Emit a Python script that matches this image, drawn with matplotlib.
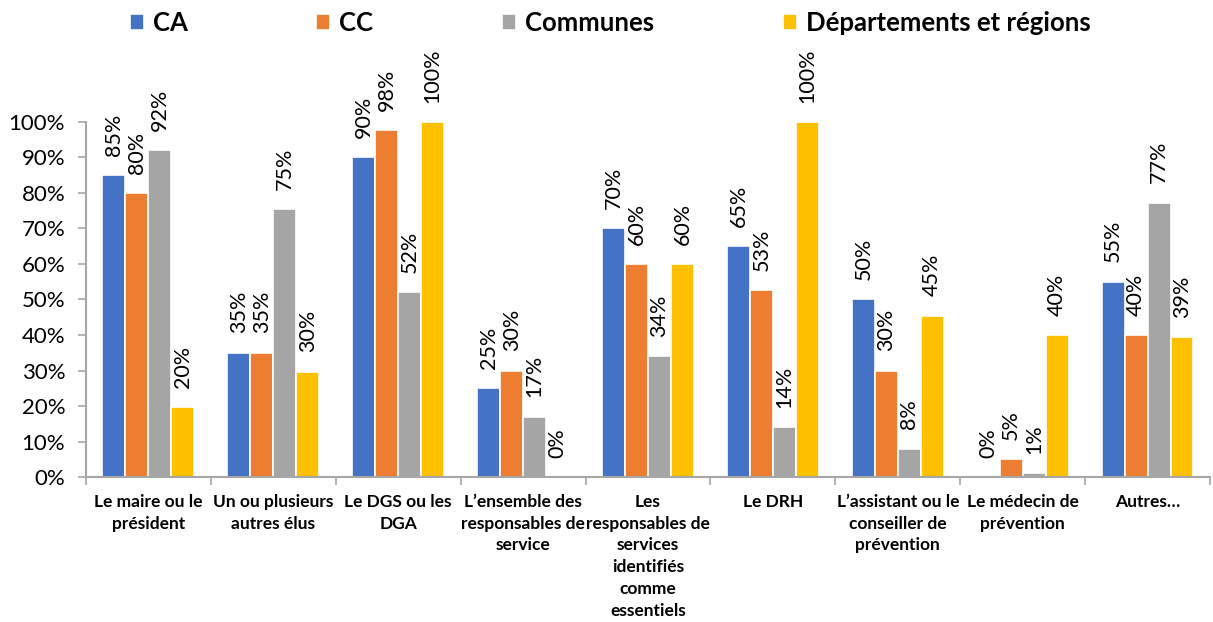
import numpy as np
import matplotlib
matplotlib.use("Agg")
import matplotlib.pyplot as plt
from matplotlib.ticker import FuncFormatter, FixedLocator

plt.rcParams['font.family'] = ['Lato', 'DejaVu Sans']

categories = [
    "Le maire ou le\nprésident",
    "Un ou plusieurs\nautres élus",
    "Le DGS ou les\nDGA",
    "L’ensemble des\nresponsables de\nservice",
    "Les\nresponsables de\nservices\nidentifiés\ncomme\nessentiels",
    "Le DRH",
    "L’assistant ou le\nconseiller de\nprévention",
    "Le médecin de\nprévention",
    "Autres…",
]

series = ["CA", "CC", "Communes", "Départements et régions"]
ca = [85, 35, 90, 25, 70, 65, 50, 0, 55]
cc = [80, 35, 97.6, 30, 60, 52.6, 30, 5, 40]
communes = [92, 75.4, 52, 17, 34, 14, 8, 1, 77.2]
departements = [19.6, 29.6, 100, 0, 60, 100, 45.4, 40, 39.4]

colors = ["#4472C4", "#ED7D31", "#A5A5A5", "#FFC000"]
values = [ca, cc, communes, departements]

fig = plt.figure(figsize=(12.13, 6.22), dpi=100)
ax = fig.add_axes([0.0709, 0.2331, 0.9266, 0.5708])

x = np.arange(len(categories))
step = 0.184
for i, (name, vals, col) in enumerate(zip(series, values, colors)):
    pos = x + (i - 1.5) * step
    bars = ax.bar(pos, vals, width=step, color=col, edgecolor="white",
                  linewidth=1.2, label=name)
    # étiquettes verticales au-dessus des barres
    for b, v in zip(bars, vals):
        ax.annotate(f"{v:.0f}%", (b.get_x() + b.get_width() / 2, v),
                    xytext=(0, 14), textcoords="offset points",
                    rotation=90, ha="center", va="bottom",
                    fontsize=15.5, color="#000000", annotation_clip=False)

ax.set_xlim(-0.5, len(categories) - 0.5)
ax.set_ylim(0, 100)
ax.yaxis.set_major_locator(FixedLocator(np.arange(0, 101, 10)))
ax.yaxis.set_major_formatter(FuncFormatter(lambda v, p: f"{v:.0f}%"))
ax.tick_params(axis="y", labelsize=16, length=6, color="#A6A6A6", width=1.2, pad=9)

ax.set_xticks(x)
ax.set_xticklabels(categories, fontsize=12.5, fontweight="bold", linespacing=1.45)
ax.tick_params(axis="x", length=0, pad=12)
ax.set_xticks(np.arange(-0.5, len(categories) + 0.5, 1), minor=True)
ax.tick_params(axis="x", which="minor", length=6, color="#A6A6A6", width=1.2)

for s in ["top", "right"]:
    ax.spines[s].set_visible(False)
for s in ["left", "bottom"]:
    ax.spines[s].set_color("#A6A6A6")
    ax.spines[s].set_linewidth(1.5)

fig.legend(loc="center", bbox_to_anchor=(0.503, 0.963), ncol=4, frameon=False,
           prop={"weight": "bold", "size": 18.5}, handlelength=0.55, handleheight=0.55,
           handletextpad=0.35, columnspacing=5.0)

fig.savefig("out.png", dpi=100)
